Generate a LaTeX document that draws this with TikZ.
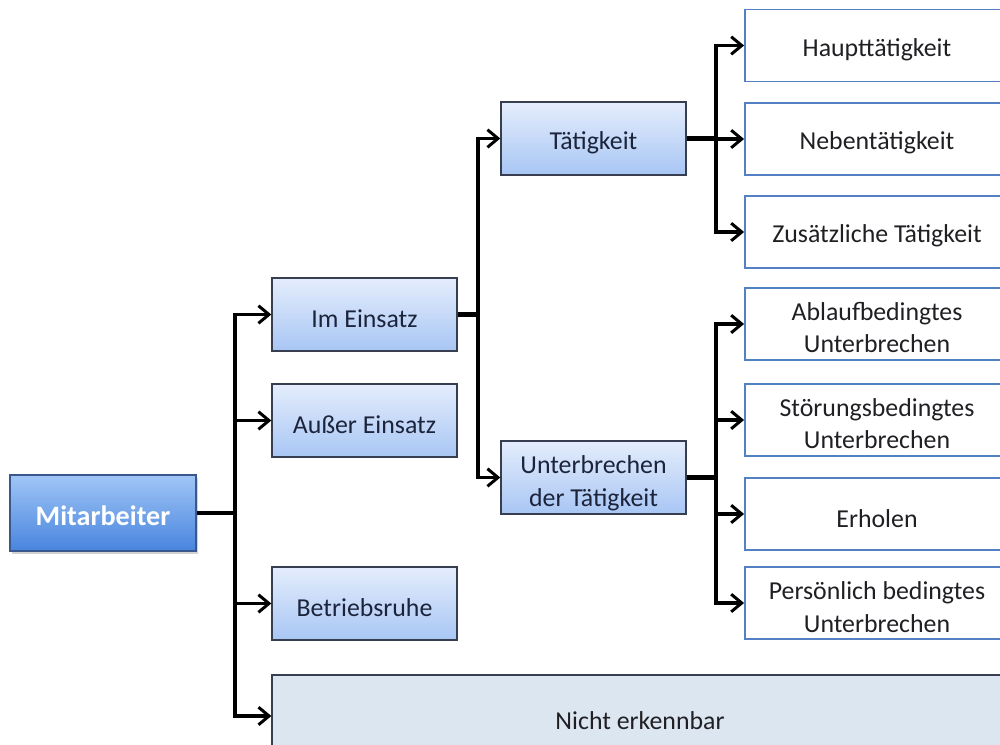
\documentclass[tikz,border=0pt]{standalone}
\usepackage{fontspec}
\setmainfont{Carlito}
\usetikzlibrary{arrows.meta,shadows}
\definecolor{topblue}{RGB}{160,198,246}
\definecolor{botblue}{RGB}{72,132,222}
\definecolor{edgeblue}{RGB}{58,88,140}
\definecolor{lighttop}{RGB}{228,237,252}
\definecolor{lightbot}{RGB}{168,198,244}
\definecolor{darkedge}{RGB}{55,62,80}
\definecolor{leafedge}{RGB}{84,128,196}
\definecolor{greyfill}{RGB}{220,230,240}
\definecolor{navytext}{RGB}{28,36,60}
\definecolor{leaftext}{RGB}{32,32,36}
\tikzset{
  lowtext/.style={execute at begin node={\rule{0pt}{#1}}},
  tworow/.style={execute at begin node={}, text height=33pt, text depth=0pt},
  rootbox/.style={draw=edgeblue, line width=0.9pt, top color=topblue, bottom color=botblue,
    minimum width=3.72cm, minimum height=1.52cm, text=white,
    font=\fontsize{16}{19}\selectfont\bfseries, lowtext=14pt,
    drop shadow={opacity=0.35, shadow xshift=1.2pt, shadow yshift=-1.5pt}},
  midbox/.style={draw=darkedge, line width=0.8pt, top color=lighttop, bottom color=lightbot,
    minimum width=3.7cm, minimum height=1.46cm, text=navytext, align=center,
    lowtext=15pt, font=\fontsize{14.7}{18.7}\selectfont},
  leafbox/.style={draw=leafedge, line width=1.1pt, fill=white,
    minimum width=5.28cm, minimum height=1.44cm, text=leaftext, align=center,
    lowtext=15pt, font=\fontsize{14.7}{18.7}\selectfont},
  greybox/.style={draw=darkedge, line width=0.8pt, fill=greyfill,
    minimum width=14.72cm, minimum height=1.64cm, text=leaftext,
    lowtext=15pt, font=\fontsize{14.7}{18.7}\selectfont},
  trunk/.style={line width=2.8pt},
  branch/.style={line width=1.9pt, -{Straight Barb[length=6pt,width=10pt,line width=1.7pt]}},
}
\begin{document}
\begin{tikzpicture}[x=0.02cm,y=-0.02cm]
\useasboundingbox (0,0) rectangle (1000,744);
\clip (0,0) rectangle (1000,744);
\fill[white] (0,0) rectangle (1000,744);

% boxes
\node[rootbox] (mit) at (103,513) {Mitarbeiter};
\node[midbox] (ein) at (364.5,314.5) {Im Einsatz};
\node[midbox] (aus) at (364.5,420.5) {Außer Einsatz};
\node[midbox] (ruhe) at (364.5,603.5) {Betriebsruhe};
\node[greybox] (nicht) at (640,716) {Nicht erkennbar};
\node[midbox] (taet) at (593.5,138.5) {Tätigkeit};
\node[midbox, tworow] (unt) at (593.5,477.5) {Unterbrechen\\der Tätigkeit};
\node[leafbox] (haupt) at (877,45.5) {Haupttätigkeit};
\node[leafbox] (neben) at (877,139) {Nebentätigkeit};
\node[leafbox] (zus) at (877,232) {Zusätzliche Tätigkeit};
\node[leafbox, tworow] (ablauf) at (877,324) {Ablaufbedingtes\\Unterbrechen};
\node[leafbox, tworow] (stoer) at (877,420) {Störungsbedingtes\\Unterbrechen};
\node[leafbox] (erh) at (877,514) {Erholen};
\node[leafbox, tworow] (pers) at (877,603) {Persönlich bedingtes\\Unterbrechen};

% bus junctions
\coordinate (b1) at (235,513);
\coordinate (b2) at (478,314.5);
\coordinate (b3) at (716,138.5);
\coordinate (b4) at (716,477.5);

% connectors
\draw[trunk] (mit.east) -- (b1);
\foreach \t in {ein,aus,ruhe,nicht} \draw[branch] (b1) |- (\t.west);
\draw[trunk] (ein.east) -- (b2);
\foreach \t in {taet,unt} \draw[branch] (b2) |- (\t.west);
\draw[trunk] (taet.east) -- (b3);
\foreach \t in {haupt,neben,zus} \draw[branch] (b3) |- (\t.west);
\draw[trunk] (unt.east) -- (b4);
\foreach \t in {ablauf,stoer,erh,pers} \draw[branch] (b4) |- (\t.west);
\end{tikzpicture}
\end{document}
